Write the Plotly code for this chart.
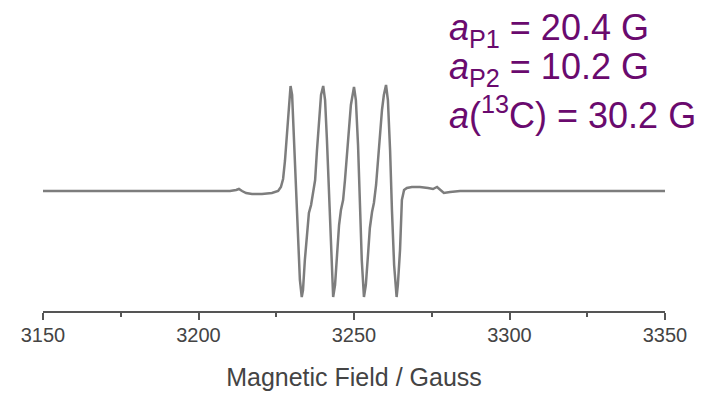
import plotly.graph_objects as go

# Magnetic field (Gauss) and EPR signal (arbitrary units, baseline = 0)
field = [3150.0, 3184.4, 3200.5, 3210.1, 3212.1, 3213.0, 3214.0, 3215.3, 3217.2, 3220.4,
         3223.6, 3225.6, 3226.5, 3227.2, 3227.8, 3228.5, 3229.1, 3229.6, 3230.1, 3230.7,
         3231.4, 3232.0, 3232.6, 3233.2, 3233.6, 3234.2, 3234.9, 3235.5, 3236.2, 3236.8,
         3237.5, 3238.1, 3238.7, 3239.4, 3240.1, 3240.7, 3241.3, 3242.0, 3242.6, 3243.3,
         3243.9, 3244.5, 3245.2, 3245.8, 3246.5, 3247.1, 3248.1, 3249.0, 3250.0, 3250.6,
         3251.3, 3251.9, 3252.5, 3253.2, 3253.8, 3254.5, 3255.1, 3255.8, 3256.4, 3257.1,
         3258.0, 3259.0, 3259.6, 3260.3, 3260.9, 3261.6, 3262.2, 3262.9, 3263.7, 3264.1,
         3264.8, 3265.1, 3265.4, 3266.1, 3267.0, 3268.6, 3271.2, 3273.8, 3275.4, 3276.7,
         3277.7, 3278.9, 3280.9, 3284.1, 3296.9, 3350.0]
signal = [0, 0, 0, 0, 1, 2, 0, -2, -3, -3,
          -2, 0, 4, 12, 30, 60, 90, 105, 96, 51,
          1, -49, -89, -106, -99, -69, -39, -22, -14, -4,
          11, 41, 71, 96, 105, 91, 51, 1, -59, -106,
          -94, -64, -34, -19, -9, 11, 51, 86, 104, 91,
          46, -9, -69, -106, -94, -64, -37, -21, -12, 6,
          46, 81, 96, 106, 91, 41, -19, -74, -106, -94,
          -59, -29, -9, 1, 3, 4, 4, 3, 2, 4,
          1, -2, -1, 0, 0, 0]

tick_vals = [3150, 3200, 3250, 3300, 3350]
tick_text = ["3150", "3200", "3250", "3300", "3350"]
x_title = "Magnetic Field / Gauss"
labels = ["<i>a</i><sub>P1</sub> = 20.4 G",
          "<i>a</i><sub>P2</sub> = 10.2 G",
          "<i>a</i>(<sup>13</sup>C) = 30.2 G"]
label_y = [1.215, 1.046, 0.855]

fig = go.Figure()
fig.add_trace(go.Scatter(x=field, y=signal, mode="lines",
                         line=dict(color="#7d7d7d", width=2.5), hoverinfo="skip"))

for txt, yy in zip(labels, label_y):
    fig.add_annotation(text=txt, xref="paper", yref="paper", x=0.6511, y=yy,
                       xanchor="left", yanchor="middle", showarrow=False, borderpad=0,
                       font=dict(family="Liberation Sans, Arial, sans-serif", size=36,
                                 color="#6a0a6e"))

fig.update_layout(
    width=706, height=395,
    margin=dict(l=35, r=49, t=72, b=92),
    paper_bgcolor="white", plot_bgcolor="white",
    showlegend=False,
    font=dict(family="Liberation Sans, Arial, sans-serif", color="#444444"),
    xaxis=dict(range=[3150, 3350], showgrid=False, zeroline=False,
               showline=True, linecolor="#555555", linewidth=1.5,
               ticks="outside", ticklen=7, tickwidth=1.5, tickcolor="#555555",
               tickvals=tick_vals, ticktext=tick_text,
               tickfont=dict(size=20, color="#444444"),
               ticklabelstandoff=-2,
               minor=dict(dtick=25, tick0=3150, ticks="outside", ticklen=4,
                          tickwidth=1.5, tickcolor="#555555"),
               title=dict(text=x_title, font=dict(size=25, color="#444444"), standoff=24)),
    yaxis=dict(range=[-120, 111], visible=False),
)

fig.write_html("out.html")
